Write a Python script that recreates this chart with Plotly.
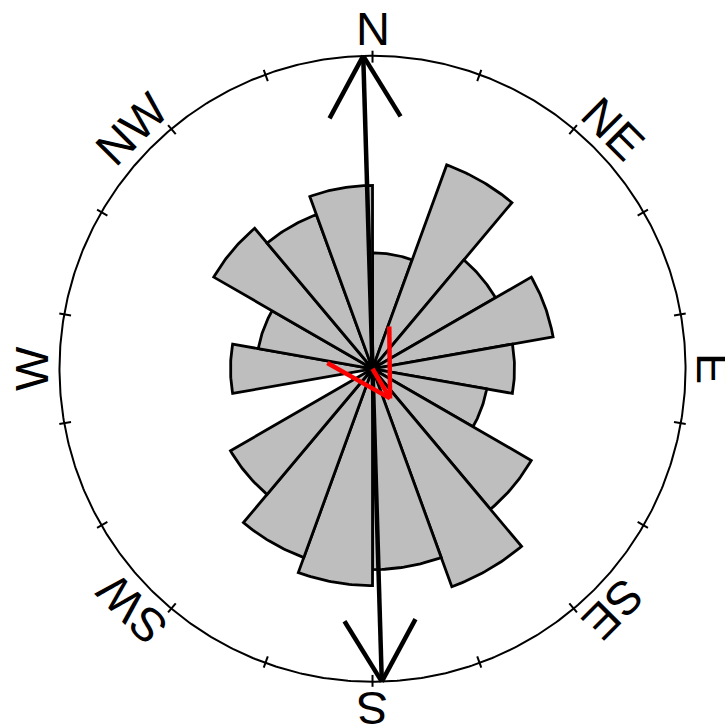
import numpy as np
import plotly.graph_objects as go

# ---- data ----
bin_start_deg = list(range(0, 360, 20))          # 18 bins of 20 degrees
counts = [2, 7, 3, 5, 3, 2, 5, 8, 6, 7, 6, 4, 0, 3, 2, 5, 4, 5]
bin_width_deg = 20
radius_per_count = 0.0686                         # rose scale: radius^2 proportional to count

mean_dir_deg = 149.4                              # red mean-direction arrow
mean_len = 0.11
axis_dir_deg = 358.3                              # black double-headed axis

labels = ["N", "NE", "E", "SE", "S", "SW", "W", "NW"]
label_deg = [0, 45, 90, 135, 180, 225, 270, 315]
tick_deg = list(range(0, 360, 20))


def pol(r, deg):
    a = np.radians(deg)
    return r * np.sin(a), r * np.cos(a)


fig = go.Figure()

# petals
for start, c in zip(bin_start_deg, counts):
    if c <= 0:
        continue
    r = np.sqrt(c * radius_per_count)
    angs = np.linspace(start, start + bin_width_deg, 30)
    xs, ys = pol(r, angs)
    xs = [0] + list(xs) + [0]
    ys = [0] + list(ys) + [0]
    fig.add_trace(go.Scatter(x=xs, y=ys, mode="lines", fill="toself",
                             fillcolor="#BEBEBE",
                             line=dict(color="black", width=2.8),
                             hoverinfo="skip", showlegend=False))

# outer circle
ca = np.linspace(0, 360, 721)
cx, cy = pol(1.0, ca)
fig.add_trace(go.Scatter(x=cx, y=cy, mode="lines",
                         line=dict(color="black", width=2),
                         hoverinfo="skip", showlegend=False))

# ticks
tx, ty = [], []
for d in tick_deg:
    x0, y0 = pol(0.978, d)
    x1, y1 = pol(1.016, d)
    tx += [x0, x1, None]
    ty += [y0, y1, None]
fig.add_trace(go.Scatter(x=tx, y=ty, mode="lines",
                         line=dict(color="black", width=2),
                         hoverinfo="skip", showlegend=False))

# black axis with arrowheads at both ends
head_len = 0.227
ax_pts_x, ax_pts_y = [], []
nx, ny = pol(1.0, axis_dir_deg)
sx, sy = pol(1.0, axis_dir_deg + 180)
ax_pts_x += [nx, sx, None]
ax_pts_y += [ny, sy, None]
for (tx0, ty0), back in [((nx, ny), axis_dir_deg + 180), ((sx, sy), axis_dir_deg)]:
    for off in (-30, 30):
        bx, by = pol(head_len, back + off)
        ax_pts_x += [tx0, tx0 + bx, None]
        ax_pts_y += [ty0, ty0 + by, None]
fig.add_trace(go.Scatter(x=ax_pts_x, y=ax_pts_y, mode="lines",
                         line=dict(color="black", width=4.5),
                         hoverinfo="skip", showlegend=False))

# red mean arrow
mx, my = pol(mean_len, mean_dir_deg)
rx, ry = [0, mx, None], [0, my, None]
for off in (-30, 30):
    bx, by = pol(0.23, mean_dir_deg + 180 + off)
    rx += [mx, mx + bx, None]
    ry += [my, my + by, None]
fig.add_trace(go.Scatter(x=rx, y=ry, mode="lines",
                         line=dict(color="#FF0000", width=4.5),
                         hoverinfo="skip", showlegend=False))

# compass labels
for lab, d in zip(labels, label_deg):
    lx, ly = pol(1.087, d)
    ang = d if d <= 180 else d - 360
    fig.add_annotation(x=lx, y=ly, xref="x", yref="y", text=lab,
                       showarrow=False, textangle=ang,
                       xanchor="center", yanchor="middle",
                       font=dict(family="Liberation Sans, Arial, sans-serif",
                                 size=47, color="black"))

fig.update_layout(width=725, height=725,
                  margin=dict(l=0, r=0, t=0, b=0),
                  paper_bgcolor="white", plot_bgcolor="white",
                  hovermode=False,
                  xaxis=dict(range=[-1.190, 1.126], visible=False, fixedrange=True),
                  yaxis=dict(range=[-1.138, 1.178], visible=False, fixedrange=True))

fig.write_html("out.html",
               config={"displayModeBar": False, "staticPlot": True},
               post_script="document.body.style.margin='0px';"
                           "document.body.style.overflow='hidden';")
